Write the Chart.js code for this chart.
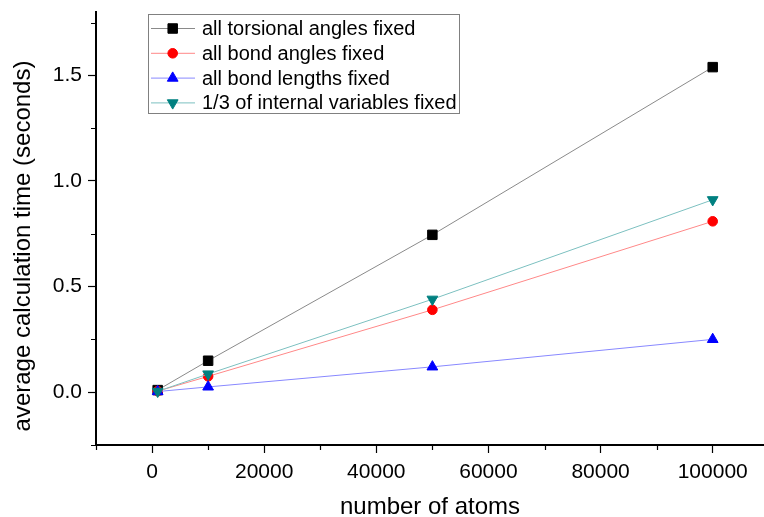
<!DOCTYPE html>
<html>
<head>
<meta charset="utf-8">
<script src="https://cdn.jsdelivr.net/npm/chart.js@4.4.1/dist/chart.umd.min.js"></script>
<style>
  html, body { margin: 0; padding: 0; background: #fff; }
  #chart { display: block; }
</style>
</head>
<body>
<canvas id="chart" width="764" height="517"></canvas>
<script>
// data
const atoms = [1000, 10000, 50000, 100000];
const torsionalFixed = [0.010, 0.149, 0.745, 1.539];
const bondAnglesFixed = [0.005, 0.075, 0.390, 0.809];
const bondLengthsFixed = [0.003, 0.025, 0.120, 0.250];
const thirdFixed = [0.004, 0.086, 0.440, 0.911];

const seriesNames = [
  'all torsional angles fixed',
  'all bond angles fixed',
  'all bond lengths fixed',
  '1/3 of internal variables fixed'
];

// tick labels (majors) and the minor tick steps between them
const xMajorTicks = [0, 20000, 40000, 60000, 80000, 100000];
const yMajorTicks = [0, 0.5, 1.0, 1.5];
const xMinorStep = 10000;
const yMinorStep = 0.25;

const FONT = "'Liberation Sans', Arial, sans-serif";
Chart.defaults.font.family = FONT;
Chart.defaults.color = '#000';

const isMajorX = v => xMajorTicks.includes(v);
const isMajorY = v => yMajorTicks.some(t => Math.abs(t - v) < 1e-9);

function series(values) {
  return values.map((v, i) => ({ x: atoms[i], y: v }));
}

const datasets = [
  {
    label: seriesNames[0],
    data: series(torsionalFixed),
    borderColor: '#8a8a8a',
    pointBackgroundColor: '#000',
    pointBorderColor: '#000',
    pointStyle: 'rect',
    pointRadius: 6.7,
    order: 3
  },
  {
    label: seriesNames[1],
    data: series(bondAnglesFixed),
    borderColor: '#ff8888',
    pointBackgroundColor: '#ff0000',
    pointBorderColor: '#ff0000',
    pointStyle: 'circle',
    pointRadius: 4.8,
    order: 2
  },
  {
    label: seriesNames[2],
    data: series(bondLengthsFixed),
    borderColor: '#8888ff',
    pointBackgroundColor: '#0000ff',
    pointBorderColor: '#0000ff',
    pointStyle: 'triangle',
    pointRadius: 6.2,
    order: 1
  },
  {
    label: seriesNames[3],
    data: series(thirdFixed),
    borderColor: '#7cc0c0',
    pointBackgroundColor: '#008080',
    pointBorderColor: '#008080',
    pointStyle: 'triangle',
    pointRotation: 180,
    pointRadius: 6.2,
    order: 0
  }
];
datasets.forEach(d => {
  d.borderWidth = 1;
  d.pointBorderWidth = 1;
  d.fill = false;
  d.tension = 0;
});

// short minor ticks (chart.js only has one tick length per axis)
const minorTicks = {
  id: 'minorTicks',
  afterDraw(chart) {
    const { ctx, chartArea, scales } = chart;
    ctx.save();
    ctx.strokeStyle = '#000';
    ctx.lineWidth = 1.2;
    ctx.beginPath();
    scales.x.ticks.forEach(t => {
      if (isMajorX(t.value)) return;
      const px = Math.round(scales.x.getPixelForValue(t.value)) + 0.5;
      ctx.moveTo(px, chartArea.bottom);
      ctx.lineTo(px, chartArea.bottom + 5);
    });
    scales.y.ticks.forEach(t => {
      if (isMajorY(t.value)) return;
      const py = Math.round(scales.y.getPixelForValue(t.value)) + 0.5;
      ctx.moveTo(chartArea.left, py);
      ctx.lineTo(chartArea.left - 5, py);
    });
    ctx.stroke();
    ctx.restore();
  }
};

// legend inside the plot, drawn like Origin does it
const insideLegend = {
  id: 'insideLegend',
  afterDraw(chart) {
    const ctx = chart.ctx;
    const box = { x: 148.5, y: 14.5, w: 311, h: 99 };
    ctx.save();
    ctx.fillStyle = '#fff';
    ctx.fillRect(box.x, box.y, box.w, box.h);
    ctx.strokeStyle = '#808080';
    ctx.lineWidth = 1;
    ctx.strokeRect(box.x, box.y, box.w, box.h);
    ctx.font = '20px ' + FONT;
    ctx.textBaseline = 'middle';
    ctx.textAlign = 'left';
    chart.data.datasets.forEach((ds, i) => {
      const y = 28.5 + i * 24.8;
      ctx.strokeStyle = ds.borderColor;
      ctx.lineWidth = 1;
      ctx.beginPath();
      ctx.moveTo(151, y);
      ctx.lineTo(195, y);
      ctx.stroke();
      ctx.fillStyle = ds.pointBackgroundColor;
      ctx.strokeStyle = ds.pointBorderColor;
      Chart.helpers.drawPoint(ctx, {
        pointStyle: ds.pointStyle,
        rotation: ds.pointRotation || 0,
        radius: ds.pointRadius,
        borderWidth: 1
      }, 172.7, y);
      ctx.fillStyle = '#000';
      ctx.fillText(ds.label, 202, y + 1);
    });
    ctx.restore();
  }
};

// y axis title sits a little below the centre of the axis in the original
const yTitle = {
  id: 'yTitle',
  afterDraw(chart) {
    const ctx = chart.ctx;
    ctx.save();
    ctx.translate(23, 246);
    ctx.rotate(-Math.PI / 2);
    ctx.font = '24px ' + FONT;
    ctx.fillStyle = '#000';
    ctx.textAlign = 'center';
    ctx.textBaseline = 'middle';
    ctx.fillText('average calculation time (seconds)', 0, 0);
    ctx.restore();
  }
};

new Chart(document.getElementById('chart'), {
  type: 'line',
  data: { datasets },
  options: {
    responsive: false,
    animation: false,
    devicePixelRatio: 1,
    layout: { autoPadding: false, padding: { top: 12, right: 0, bottom: 0, left: 0 } },
    plugins: {
      legend: { display: false },
      tooltip: { enabled: false }
    },
    scales: {
      x: {
        type: 'linear',
        min: -10000,
        max: 109150,
        afterBuildTicks: scale => {
          const ticks = [];
          for (let v = -10000; v <= 100000; v += xMinorStep) ticks.push({ value: v });
          scale.ticks = ticks;
        },
        afterFit: scale => {
          scale.height = 72;
          scale.paddingLeft = 0;
          scale.paddingRight = 0;
        },
        ticks: {
          autoSkip: false,
          maxRotation: 0,
          padding: 7,
          font: { size: 21 },
          callback: v => isMajorX(v) ? String(v) : ''
        },
        grid: {
          drawOnChartArea: false,
          drawTicks: true,
          tickLength: 8,
          tickColor: c => c.tick && isMajorX(c.tick.value) ? '#000' : 'rgba(0,0,0,0)',
          tickWidth: 1.2
        },
        border: { display: true, color: '#000', width: 2 },
        title: {
          display: true,
          text: 'number of atoms',
          font: { size: 24, lineHeight: 0.8 },
          padding: { top: 0, bottom: 0 }
        }
      },
      y: {
        type: 'linear',
        min: -0.25,
        max: 1.8,
        afterBuildTicks: scale => {
          const ticks = [];
          for (let k = -1; k <= 7; k++) ticks.push({ value: k * yMinorStep });
          scale.ticks = ticks;
        },
        afterFit: scale => {
          scale.width = 96;
          scale.paddingTop = 0;
          scale.paddingBottom = 0;
        },
        ticks: {
          autoSkip: false,
          padding: 6,
          font: { size: 21 },
          callback: v => isMajorY(v) ? v.toFixed(1) : ''
        },
        grid: {
          drawOnChartArea: false,
          drawTicks: true,
          tickLength: 8,
          tickColor: c => c.tick && isMajorY(c.tick.value) ? '#000' : 'rgba(0,0,0,0)',
          tickWidth: 1.2
        },
        border: { display: true, color: '#000', width: 2 }
      }
    }
  },
  plugins: [minorTicks, insideLegend, yTitle]
});
</script>
</body>
</html>
